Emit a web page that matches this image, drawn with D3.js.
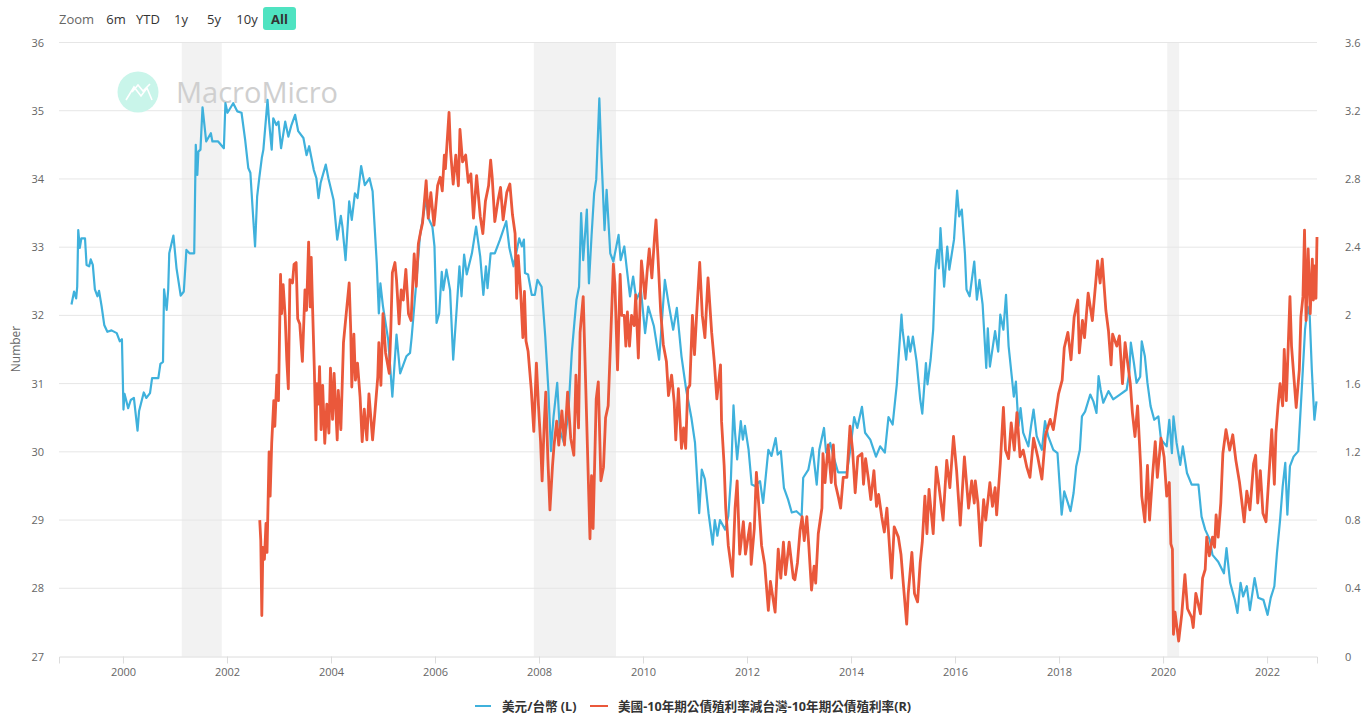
<!DOCTYPE html>
<meta charset="utf-8">
<style>
body { margin: 0; background: #fff; }
text { font-family: "Open Sans", "Noto Sans CJK TC", sans-serif; }
</style>
<script src="https://d3js.org/d3.v7.min.js"></script>
<body>
<div id="chart"></div>
<script>
var xTicks = [2000, 2002, 2004, 2006, 2008, 2010, 2012, 2014, 2016, 2018, 2020, 2022];
var leftTicks = [27, 28, 29, 30, 31, 32, 33, 34, 35, 36];
var rightTicks = [0, 0.4, 0.8, 1.2, 1.6, 2, 2.4, 2.8, 3.2, 3.6];
var zoomLabels = ["6m", "YTD", "1y", "5y", "10y", "All"];
var recessions = [[2001.13, 2001.9], [2007.9, 2009.48], [2020.08, 2020.31]];
var legendNames = ["美元/台幣 (L)", "美國-10年期公債殖利率減台灣-10年期公債殖利率(R)"];

// [year, TWD per USD]
var usdTwd = [
[1999.01,32.16],[1999.06,32.35],[1999.10,32.25],[1999.12,32.42],[1999.14,33.25],[1999.17,32.99],[1999.2,33.13],[1999.27,33.13],[1999.30,32.74],[1999.35,32.72],[1999.38,32.82],[1999.42,32.74],[1999.46,32.38],[1999.51,32.28],[1999.54,32.36],[1999.59,32.13],[1999.64,31.86],[1999.70,31.76],[1999.78,31.78],[1999.88,31.74],[1999.94,31.62],[1999.98,31.65],
[2000.01,30.62],[2000.03,30.85],[2000.1,30.64],[2000.15,30.76],[2000.21,30.79],[2000.28,30.31],[2000.31,30.6],[2000.40,30.87],[2000.45,30.79],[2000.52,30.86],[2000.56,31.08],[2000.68,31.08],[2000.72,31.29],[2000.77,31.32],[2000.79,32.38],[2000.84,32.08],[2000.87,32.38],[2000.89,32.91],[2000.97,33.17],
[2001.03,32.69],[2001.11,32.29],[2001.17,32.35],[2001.22,32.96],[2001.28,32.91],[2001.37,32.91],[2001.40,34.5],[2001.43,34.06],[2001.45,34.40],[2001.49,34.43],[2001.53,35.05],[2001.6,34.55],[2001.69,34.67],[2001.72,34.55],[2001.83,34.55],[2001.94,34.45],[2001.97,35.11],
[2002.01,34.97],[2002.12,35.11],[2002.2,34.99],[2002.28,34.97],[2002.35,34.57],[2002.41,34.16],[2002.45,34.09],[2002.49,33.6],[2002.54,33.01],[2002.58,33.74],[2002.62,34.01],[2002.67,34.31],[2002.70,34.43],[2002.78,35.16],[2002.81,34.84],[2002.86,34.43],[2002.89,34.89],[2002.95,34.79],[2002.99,34.84],
[2003.04,34.45],[2003.12,34.84],[2003.18,34.62],[2003.24,34.79],[2003.31,34.94],[2003.37,34.70],[2003.47,34.6],[2003.53,34.35],[2003.58,34.48],[2003.67,34.13],[2003.72,34.01],[2003.76,33.72],[2003.80,33.94],[2003.9,34.21],[2003.95,34.01],
[2004.05,33.69],[2004.12,33.11],[2004.19,33.46],[2004.22,33.30],[2004.28,32.81],[2004.35,33.67],[2004.4,33.4],[2004.46,33.79],[2004.51,33.72],[2004.58,34.19],[2004.65,33.91],[2004.74,34.01],[2004.8,33.82],[2004.88,32.77],[2004.92,32.03],[2004.95,32.47],
[2005.0,32.13],[2005.1,31.64],[2005.18,30.81],[2005.26,31.72],[2005.33,31.15],[2005.45,31.4],[2005.52,31.45],[2005.55,31.67],[2005.58,31.94],[2005.65,32.57],[2005.71,33.16],[2005.83,33.72],[2005.87,33.43],[2005.95,33.30],[2005.99,33.01],
[2006.03,31.89],[2006.08,32.03],[2006.13,32.64],[2006.16,32.37],[2006.22,32.67],[2006.29,32.37],[2006.35,31.35],[2006.42,32.13],[2006.47,32.72],[2006.51,32.28],[2006.56,32.89],[2006.61,32.6],[2006.71,32.91],[2006.79,33.30],[2006.87,32.86],[2006.93,32.3],[2006.98,32.72],
[2007.01,32.4],[2007.07,32.91],[2007.15,32.91],[2007.25,33.11],[2007.37,33.38],[2007.43,32.99],[2007.51,32.72],[2007.62,33.13],[2007.67,33.01],[2007.71,33.11],[2007.73,32.62],[2007.79,32.6],[2007.86,32.3],[2007.92,32.3],[2007.97,32.52],
[2008.05,32.42],[2008.12,31.69],[2008.18,30.91],[2008.23,30.01],[2008.28,30.52],[2008.35,31.01],[2008.4,30.32],[2008.48,30.13],[2008.56,30.52],[2008.63,31.45],[2008.68,31.89],[2008.72,32.23],[2008.77,32.42],[2008.81,33.50],[2008.85,32.81],[2008.92,33.55],[2008.96,32.47],
[2009.01,33.16],[2009.06,33.79],[2009.1,33.99],[2009.16,35.18],[2009.2,34.33],[2009.22,33.99],[2009.26,33.25],[2009.3,33.84],[2009.37,32.91],[2009.43,32.79],[2009.53,33.18],[2009.57,32.81],[2009.64,33.01],[2009.69,32.67],[2009.75,32.28],[2009.81,32.57],[2009.87,32.23],[2009.96,32.37],
[2010.04,31.74],[2010.1,32.13],[2010.21,31.84],[2010.31,31.35],[2010.42,32.52],[2010.49,32.18],[2010.58,31.79],[2010.65,32.11],[2010.74,31.40],[2010.83,30.91],[2010.93,30.5],
[2011.0,30.13],[2011.08,29.1],[2011.13,29.74],[2011.19,29.6],[2011.26,29.1],[2011.34,28.64],[2011.38,29.0],[2011.43,28.77],[2011.48,29.0],[2011.58,28.86],[2011.64,29.06],[2011.69,29.6],[2011.74,30.68],[2011.77,30.28],[2011.81,29.89],[2011.88,30.45],[2011.92,30.18],[2011.96,30.38],
[2012.03,30.03],[2012.09,29.52],[2012.15,29.5],[2012.25,29.57],[2012.31,29.25],[2012.41,30.03],[2012.47,29.94],[2012.55,30.2],[2012.59,29.96],[2012.65,30.01],[2012.71,29.47],[2012.79,29.3],[2012.86,29.11],[2012.95,29.13],
[2013.05,29.06],[2013.08,29.62],[2013.18,29.74],[2013.26,30.06],[2013.34,29.52],[2013.39,30.03],[2013.48,30.35],[2013.52,29.99],[2013.6,30.13],[2013.66,29.94],[2013.75,29.7],[2013.92,29.7],[2013.98,30.0],
[2014.06,30.51],[2014.12,30.35],[2014.21,30.66],[2014.27,30.28],[2014.37,30.18],[2014.48,29.93],[2014.56,30.08],[2014.65,29.99],[2014.72,30.51],[2014.8,30.4],[2014.88,30.99],[2014.97,32.01],[2014.99,31.79],
[2015.06,31.35],[2015.1,31.69],[2015.14,31.47],[2015.19,31.69],[2015.26,31.33],[2015.33,30.77],[2015.37,30.56],[2015.44,31.3],[2015.47,30.99],[2015.53,31.35],[2015.58,31.79],[2015.62,32.67],[2015.66,32.96],[2015.69,32.69],[2015.72,33.28],[2015.79,32.42],[2015.85,33.01],[2015.89,32.67],[2015.98,33.11],
[2016.04,33.83],[2016.08,33.45],[2016.13,33.55],[2016.19,32.91],[2016.22,32.38],[2016.28,32.28],[2016.37,32.79],[2016.42,32.23],[2016.47,32.52],[2016.53,32.16],[2016.6,31.23],[2016.63,31.81],[2016.67,31.25],[2016.77,31.77],[2016.83,31.47],[2016.87,32.01],[2016.93,31.79],[2016.98,32.3],
[2017.03,31.55],[2017.09,31.11],[2017.13,30.81],[2017.17,31.03],[2017.22,30.38],[2017.26,30.64],[2017.31,30.28],[2017.41,30.08],[2017.46,30.37],[2017.51,30.62],[2017.57,30.23],[2017.67,30.03],[2017.73,30.45],[2017.79,30.23],[2017.89,30.03],[2017.97,29.98],
[2018.05,29.08],[2018.1,29.42],[2018.15,29.3],[2018.22,29.13],[2018.28,29.4],[2018.33,29.79],[2018.4,30.03],[2018.44,30.52],[2018.5,30.59],[2018.6,30.84],[2018.66,30.74],[2018.72,30.57],[2018.76,31.11],[2018.8,30.91],[2018.85,30.72],[2018.95,30.89],
[2019.04,30.77],[2019.17,30.84],[2019.3,30.91],[2019.35,31.16],[2019.38,31.6],[2019.44,31.3],[2019.49,31.01],[2019.56,31.1],[2019.59,31.62],[2019.65,31.4],[2019.7,31.01],[2019.76,30.67],[2019.83,30.47],[2019.91,30.52],[2019.96,30.18],
[2020.07,30.08],[2020.12,30.47],[2020.17,29.98],[2020.2,30.52],[2020.26,30.13],[2020.33,29.81],[2020.38,30.08],[2020.46,29.69],[2020.55,29.52],[2020.68,29.52],[2020.74,29.05],[2020.81,28.86],[2020.9,28.71],[2020.95,28.49],
[2021.06,28.39],[2021.17,28.22],[2021.22,28.59],[2021.29,28.08],[2021.38,27.83],[2021.43,27.64],[2021.49,28.08],[2021.54,27.88],[2021.61,28.03],[2021.67,27.68],[2021.76,28.15],[2021.83,27.86],[2021.93,27.83],
[2022.01,27.61],[2022.07,27.86],[2022.14,28.03],[2022.19,28.52],[2022.25,29.0],[2022.3,29.49],[2022.35,29.84],[2022.39,29.08],[2022.44,29.79],[2022.51,29.93],[2022.6,30.01],[2022.67,30.96],[2022.73,31.79],[2022.78,32.13],[2022.82,31.99],[2022.86,31.21],[2022.91,30.47],[2022.95,30.74]
];

// [year, US 10y minus Taiwan 10y, pct pts]
var yieldSpread = [
[2002.63,.80],[2002.65,.68],[2002.67,.24],[2002.69,.64],[2002.72,.57],[2002.75,.78],[2002.77,.61],[2002.79,.9],[2002.81,1.2],[2002.83,.94],[2002.86,1.25],[2002.9,1.5],[2002.92,1.35],[2002.96,1.65],[2002.99,1.5],
[2003.03,2.24],[2003.05,2.01],[2003.08,2.18],[2003.12,1.99],[2003.15,1.74],[2003.18,1.57],[2003.21,2.21],[2003.26,2.19],[2003.29,2.3],[2003.33,2.31],[2003.36,1.98],[2003.4,1.95],[2003.45,1.73],[2003.5,2.15],[2003.53,2.03],[2003.57,2.43],[2003.6,2.05],[2003.62,2.34],[2003.64,2.11],[2003.68,1.68],[2003.71,1.27],[2003.73,1.6],[2003.76,1.48],[2003.78,1.7],[2003.81,1.33],[2003.84,1.59],[2003.88,1.25],[2003.92,1.48],[2003.96,1.31],[2003.99,1.69],
[2004.03,1.39],[2004.06,1.66],[2004.12,1.27],[2004.14,1.56],[2004.19,1.33],[2004.24,1.84],[2004.28,1.97],[2004.35,2.19],[2004.38,1.91],[2004.4,1.58],[2004.44,1.89],[2004.47,1.62],[2004.51,1.72],[2004.56,1.52],[2004.6,1.26],[2004.64,1.45],[2004.69,1.27],[2004.73,1.54],[2004.8,1.27],[2004.85,1.45],[2004.9,1.64],[2004.92,1.84],[2004.96,1.59],
[2005.0,2.01],[2005.05,1.78],[2005.12,1.66],[2005.15,1.91],[2005.18,2.25],[2005.23,2.31],[2005.26,2.21],[2005.31,1.95],[2005.35,2.15],[2005.39,2.09],[2005.44,2.27],[2005.49,2.01],[2005.54,1.97],[2005.57,2.17],[2005.6,2.36],[2005.64,2.17],[2005.68,2.42],[2005.73,2.5],[2005.76,2.54],[2005.83,2.79],[2005.87,2.57],[2005.92,2.72],[2005.98,2.53],
[2006.0,2.59],[2006.05,2.76],[2006.1,2.81],[2006.14,2.73],[2006.18,2.94],[2006.2,2.86],[2006.27,3.19],[2006.3,2.96],[2006.35,2.77],[2006.4,2.94],[2006.45,2.76],[2006.48,3.09],[2006.53,2.9],[2006.59,2.94],[2006.64,2.78],[2006.69,2.83],[2006.74,2.57],[2006.8,2.82],[2006.87,2.58],[2006.92,2.48],[2006.97,2.67],
[2007.03,2.76],[2007.07,2.91],[2007.1,2.81],[2007.15,2.55],[2007.21,2.67],[2007.26,2.75],[2007.31,2.56],[2007.38,2.72],[2007.44,2.77],[2007.49,2.59],[2007.54,2.48],[2007.57,2.1],[2007.6,2.35],[2007.65,2.12],[2007.69,1.87],[2007.72,2.14],[2007.75,1.85],[2007.79,1.79],[2007.85,1.57],[2007.9,1.32],[2007.95,1.72],[2007.99,1.47],
[2008.03,1.26],[2008.06,1.03],[2008.1,1.36],[2008.13,1.55],[2008.17,1.16],[2008.21,.86],[2008.26,1.12],[2008.29,1.24],[2008.34,1.38],[2008.38,1.24],[2008.44,1.44],[2008.49,1.24],[2008.55,1.55],[2008.61,1.28],[2008.67,1.18],[2008.71,1.65],[2008.76,1.34],[2008.79,1.9],[2008.85,2.11],[2008.9,1.57],[2008.94,1.13],[2008.98,.69],
[2009.01,1.06],[2009.04,.75],[2009.1,1.51],[2009.14,1.61],[2009.19,1.03],[2009.24,1.11],[2009.28,1.4],[2009.33,1.47],[2009.38,1.88],[2009.43,2.3],[2009.46,2.18],[2009.51,1.68],[2009.56,2.24],[2009.59,2.0],[2009.64,2.0],[2009.67,1.82],[2009.7,2.02],[2009.74,1.82],[2009.78,2.0],[2009.83,1.94],[2009.86,2.12],[2009.91,1.75],[2009.97,2.32],
[2010.04,2.1],[2010.08,2.26],[2010.12,2.39],[2010.17,2.22],[2010.22,2.45],[2010.25,2.56],[2010.29,2.33],[2010.34,2.02],[2010.39,1.83],[2010.45,1.73],[2010.49,1.53],[2010.55,1.65],[2010.6,1.49],[2010.63,1.27],[2010.68,1.57],[2010.74,1.22],[2010.78,1.34],[2010.82,1.22],[2010.86,1.57],[2010.9,1.59],[2010.95,2.0],[2010.99,1.77],
[2011.03,2.0],[2011.09,2.31],[2011.14,2.0],[2011.19,1.87],[2011.25,2.22],[2011.32,1.9],[2011.37,1.73],[2011.42,1.51],[2011.49,1.71],[2011.51,1.38],[2011.56,1.12],[2011.59,.87],[2011.64,.65],[2011.72,.47],[2011.77,.87],[2011.81,1.03],[2011.86,.6],[2011.93,.79],[2011.97,.6],
[2012.06,.78],[2012.08,.54],[2012.14,.75],[2012.18,1.08],[2012.23,.87],[2012.28,.65],[2012.34,.54],[2012.41,.27],[2012.45,.44],[2012.54,.26],[2012.6,.63],[2012.65,.46],[2012.7,.67],[2012.74,.48],[2012.81,.67],[2012.89,.46],[2012.92,.45],[2012.97,.55],
[2013.02,.74],[2013.06,.82],[2013.1,.68],[2013.15,.82],[2013.19,.64],[2013.24,.39],[2013.29,.53],[2013.32,.43],[2013.37,.72],[2013.44,.87],[2013.46,1.19],[2013.5,1.02],[2013.56,1.24],[2013.62,1.02],[2013.66,1.24],[2013.7,1.01],[2013.76,.93],[2013.8,.87],[2013.85,1.05],[2013.92,1.05],[2013.98,1.35],
[2014.03,1.21],[2014.08,.96],[2014.13,1.17],[2014.21,1.19],[2014.24,1.01],[2014.28,1.16],[2014.33,1.05],[2014.38,.92],[2014.44,1.09],[2014.49,.88],[2014.53,.95],[2014.59,.82],[2014.64,.73],[2014.69,.87],[2014.78,.46],[2014.83,.76],[2014.91,.7],[2014.96,.6],
[2015.01,.41],[2015.07,.19],[2015.1,.37],[2015.17,.61],[2015.22,.37],[2015.28,.32],[2015.33,.55],[2015.37,.67],[2015.42,.94],[2015.46,.72],[2015.5,.98],[2015.58,.72],[2015.64,1.11],[2015.69,1.0],[2015.77,.8],[2015.84,1.15],[2015.9,.99],[2015.97,1.29],
[2016.03,1.09],[2016.1,.77],[2016.18,1.17],[2016.26,.87],[2016.32,1.03],[2016.37,.9],[2016.39,1.03],[2016.44,.9],[2016.49,.65],[2016.55,.92],[2016.59,.8],[2016.67,1.02],[2016.72,.88],[2016.77,.99],[2016.8,.83],[2016.87,1.13],[2016.93,1.46],[2016.97,1.21],
[2017.03,1.16],[2017.08,1.37],[2017.14,1.21],[2017.19,1.43],[2017.25,1.17],[2017.31,1.21],[2017.38,1.11],[2017.44,1.05],[2017.51,1.28],[2017.59,1.17],[2017.67,1.04],[2017.74,1.3],[2017.83,1.39],[2017.89,1.33],[2017.99,1.54],
[2018.06,1.62],[2018.1,1.81],[2018.17,1.9],[2018.23,1.74],[2018.29,1.99],[2018.36,2.09],[2018.39,1.78],[2018.45,1.97],[2018.49,1.87],[2018.56,2.13],[2018.64,1.97],[2018.71,2.21],[2018.74,2.32],[2018.79,2.19],[2018.83,2.33],[2018.9,2.03],[2018.95,1.91],
[2019.0,1.71],[2019.03,1.89],[2019.11,1.82],[2019.16,1.88],[2019.22,1.6],[2019.27,1.84],[2019.32,1.72],[2019.37,1.6],[2019.41,1.43],[2019.46,1.29],[2019.51,1.47],[2019.57,1.11],[2019.59,.94],[2019.65,.79],[2019.7,1.12],[2019.74,.8],[2019.8,1.07],[2019.85,1.26],[2019.89,1.05],[2019.96,1.28],
[2020.02,1.17],[2020.07,.94],[2020.12,1.02],[2020.15,.66],[2020.18,.63],[2020.2,.13],[2020.23,.26],[2020.3,.09],[2020.36,.25],[2020.42,.48],[2020.47,.28],[2020.55,.23],[2020.58,.17],[2020.63,.37],[2020.72,.25],[2020.76,.46],[2020.81,.51],[2020.84,.7],[2020.89,.59],[2020.95,.7],[2020.99,.64],
[2021.02,.83],[2021.06,.7],[2021.11,.9],[2021.15,1.19],[2021.21,1.33],[2021.28,1.21],[2021.34,1.3],[2021.4,1.15],[2021.47,1.02],[2021.51,.92],[2021.56,.79],[2021.61,.97],[2021.67,.86],[2021.74,1.13],[2021.78,1.18],[2021.82,.9],[2021.87,1.09],[2021.92,.84],[2021.98,.79],
[2022.05,1.13],[2022.09,1.33],[2022.14,1.01],[2022.17,1.31],[2022.21,1.47],[2022.25,1.6],[2022.3,1.47],[2022.33,1.8],[2022.37,1.5],[2022.44,2.11],[2022.47,1.82],[2022.52,1.62],[2022.56,1.46],[2022.62,1.68],[2022.65,1.99],[2022.69,2.11],[2022.72,2.5],[2022.75,1.97],[2022.79,2.39],[2022.83,2.01],[2022.87,2.33],[2022.89,2.09],[2022.91,2.29],[2022.94,2.1],[2022.96,2.46]
];

var width = 1363, height = 713;
var blue = "#3fb1dc", red = "#ea583b", grid = "#e6e6e6";

var svg = d3.select("#chart").append("svg")
	.attr("width", width)
	.attr("height", height)
	.style("display", "block");

var x = d3.scaleLinear().domain([1998.77, 2022.96]).range([59, 1317]);
var yL = d3.scaleLinear().domain([27, 36]).range([656.5, 42.5]);
var yR = d3.scaleLinear().domain([0, 3.6]).range([656.5, 42.5]);

// recession bands
svg.selectAll(".band").data(recessions).enter().append("rect")
	.attr("x", d => x(d[0]))
	.attr("width", d => x(d[1]) - x(d[0]))
	.attr("y", yL(36))
	.attr("height", yL(27) - yL(36))
	.attr("fill", "#f2f2f2");

// grid lines
svg.selectAll(".grid").data(leftTicks.slice(1)).enter().append("line")
	.attr("x1", 59).attr("x2", 1317)
	.attr("y1", d => yL(d)).attr("y2", d => yL(d))
	.attr("stroke", grid);

// watermark
svg.append("circle").attr("cx", 138).attr("cy", 92).attr("r", 20.5).attr("fill", "#c9f5ea");
svg.append("path")
	.attr("d", "M126 100 L134 87 L141 96 L147 88 L152 100 M132 92 L138 85 L143 91 L150 84")
	.attr("fill", "none").attr("stroke", "#fff").attr("stroke-width", 1.6);
svg.append("text").attr("x", 176).attr("y", 103)
	.attr("font-size", 29).attr("fill", "#cfcfcf").text("MacroMicro");

// axes
var xAxis = svg.append("g")
	.attr("transform", "translate(0,656.5)")
	.call(d3.axisBottom(x).tickValues(xTicks).tickFormat(d3.format("d")).tickSize(7).tickPadding(5));
xAxis.select(".domain").attr("stroke", "#dcdcdc");
xAxis.selectAll("line").attr("stroke", "#dcdcdc");
xAxis.selectAll("text").attr("font-size", 11).attr("fill", "#666").style("font-family", '"Open Sans"');

var leftAxis = svg.append("g")
	.attr("transform", "translate(44,0)")
	.call(d3.axisLeft(yL).tickValues(leftTicks).tickSize(0).tickPadding(0));
var rightAxis = svg.append("g")
	.attr("transform", "translate(1345,0)")
	.call(d3.axisRight(yR).tickValues(rightTicks).tickFormat(d => d).tickSize(0).tickPadding(0));
[leftAxis, rightAxis].forEach(function(a) {
	a.select(".domain").remove();
	a.selectAll("text").attr("font-size", 11).attr("fill", "#666").style("font-family", '"Open Sans"');
});

svg.append("text")
	.attr("transform", "translate(20,349) rotate(-90)")
	.attr("text-anchor", "middle")
	.attr("font-size", 12).attr("fill", "#666")
	.text("Number");

// lines
var usdLine = d3.line().x(d => x(d[0])).y(d => yL(d[1]));
var spreadLine = d3.line().x(d => x(d[0])).y(d => yR(d[1]));

svg.append("path").datum(usdTwd)
	.attr("d", usdLine)
	.attr("fill", "none").attr("stroke", blue).attr("stroke-width", 2.2).attr("stroke-linejoin", "round");
svg.append("path").datum(yieldSpread)
	.attr("d", spreadLine)
	.attr("fill", "none").attr("stroke", red).attr("stroke-width", 2.8).attr("stroke-linejoin", "round");

// zoom buttons
svg.append("rect").attr("x", 263).attr("y", 7).attr("width", 33).attr("height", 23).attr("rx", 3).attr("fill", "#4fe3c1");
svg.append("text").attr("x", 59).attr("y", 24).attr("font-size", 13).attr("fill", "#666").text("Zoom");
var zoomX = [116, 148, 181, 214, 247, 279.5];
svg.selectAll(".zoomBtn").data(zoomLabels).enter().append("text")
	.attr("x", (d, i) => zoomX[i])
	.attr("y", 24)
	.attr("text-anchor", "middle")
	.attr("font-size", 13)
	.attr("font-weight", d => d == "All" ? 700 : 400)
	.attr("fill", "#333")
	.text(d => d);

// legend
var legendLine = [[475, 491], [590, 608]];
var legendText = [502, 618];
var legendColor = [blue, red];
legendNames.forEach(function(name, i) {
	svg.append("line")
		.attr("x1", legendLine[i][0]).attr("x2", legendLine[i][1])
		.attr("y1", 706).attr("y2", 706)
		.attr("stroke", legendColor[i]).attr("stroke-width", 2);
	svg.append("text")
		.attr("x", legendText[i]).attr("y", 710.5)
		.attr("font-size", 12.6).attr("font-weight", 700).attr("fill", "#333")
		.text(name);
});
</script>
</body>
